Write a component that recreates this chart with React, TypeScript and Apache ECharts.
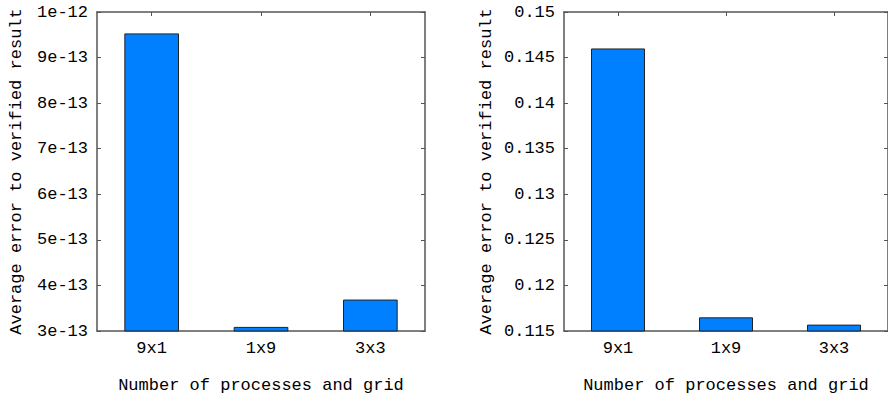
import React, { useEffect, useRef } from "react";
import * as echarts from "echarts";

const categories = ["9x1", "1x9", "3x3"];
const leftValues = [9.53e-13, 3.09e-13, 3.69e-13];
const rightValues = [0.146, 0.1165, 0.1157];
const leftRange = { min: 3e-13, max: 1e-12, interval: 1e-13 };
const rightRange = { min: 0.115, max: 0.15, interval: 0.005 };
const yName = "Average error to verified result";
const xName = "Number of processes and grid";

const FONT = "Liberation Mono";
const AXIS_COLOR = "#555555";
const BAR_COLOR = "#0080ff";

function sciFmt(v: number): string {
  const e = Math.floor(Math.log10(v) + 1e-9);
  const m = Math.round(v / Math.pow(10, e));
  return `${m}e-${-e}`;
}

export default function App() {
  const ref = useRef<HTMLDivElement>(null);
  useEffect(() => {
    if (!ref.current) return;
    const chart = echarts.init(ref.current, undefined, { renderer: "svg" });
    const textStyle = { fontFamily: FONT, fontSize: 17, color: "#000" };
    const axisLine = { show: true, lineStyle: { color: AXIS_COLOR, width: 1.5 } };
    const mkX = (gridIndex: number) => [
      {
        type: "category",
        gridIndex,
        data: categories,
        position: "bottom",
        axisLine,
        axisTick: { show: false },
        axisLabel: { ...textStyle, margin: 9 },
        name: xName,
        nameLocation: "middle",
        nameGap: 46,
        nameTextStyle: textStyle,
      },
      {
        type: "category",
        gridIndex,
        data: categories,
        position: "top",
        axisLine,
        axisTick: { show: true, inside: true, alignWithLabel: true, length: 4, lineStyle: { color: AXIS_COLOR } },
        axisLabel: { show: false },
      },
    ];
    const mkY = (gridIndex: number, range: any, fmt: any, gap: number) => [
      {
        type: "value",
        gridIndex,
        position: "left",
        ...range,
        axisLine,
        splitLine: { show: false },
        axisTick: { show: true, inside: true, length: 4, lineStyle: { color: AXIS_COLOR } },
        axisLabel: { ...textStyle, margin: 9, formatter: fmt },
        name: yName,
        nameLocation: "middle",
        nameGap: gap,
        nameTextStyle: textStyle,
      },
      {
        type: "value",
        gridIndex,
        position: "right",
        ...range,
        axisLine,
        splitLine: { show: false },
        axisTick: { show: true, inside: true, length: 4, lineStyle: { color: AXIS_COLOR } },
        axisLabel: { show: false },
      },
    ];
    chart.setOption({
      animation: false,
      grid: [
        { left: 97, top: 12, width: 328, height: 320 },
        { left: 564, top: 12, width: 330, height: 320 },
      ],
      xAxis: [...mkX(0), ...mkX(1)],
      yAxis: [
        ...mkY(0, leftRange, (v: number) => sciFmt(v), 72),
        ...mkY(1, rightRange, (v: number) => String(Number(v.toFixed(4))), 69),
      ],
      series: [
        {
          type: "bar",
          xAxisIndex: 0,
          yAxisIndex: 0,
          data: leftValues,
          barWidth: "50%",
          itemStyle: { color: BAR_COLOR, borderColor: "#222", borderWidth: 1 },
        },
        {
          type: "bar",
          xAxisIndex: 2,
          yAxisIndex: 2,
          data: rightValues,
          barWidth: "50%",
          itemStyle: { color: BAR_COLOR, borderColor: "#222", borderWidth: 1 },
        },
      ],
    });
    return () => chart.dispose();
  }, []);
  return (
    <div
      ref={ref}
      style={{ position: "fixed", left: 0, top: 0, width: 888, height: 399, background: "#fff" }}
    />
  );
}
